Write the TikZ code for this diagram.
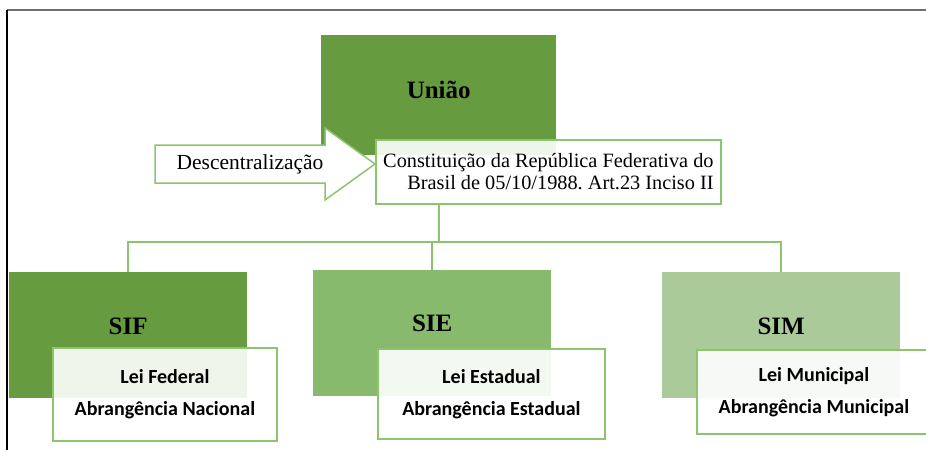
\documentclass[tikz,border=0pt]{standalone}
\usepackage{fontspec}
\setmainfont{Liberation Serif}
\newfontfamily\leifont{Carlito}
\definecolor{uniaoGreen}{RGB}{103,155,64}
\definecolor{sieGreen}{RGB}{135,186,108}
\definecolor{simGreen}{RGB}{170,203,153}
\definecolor{lineGreen}{RGB}{141,196,110}
\definecolor{frameGray}{RGB}{110,110,110}
\frenchspacing

\begin{document}
\begin{tikzpicture}[x=1pt,y=-1pt,
    bigbox/.style={anchor=north west, inner sep=0pt, draw=none},
    leibox/.style={anchor=north west, inner sep=0pt, draw=lineGreen, line width=1.8pt,
      fill=white, fill opacity=0.9, text opacity=1, align=center,
      font=\leifont\bfseries\fontsize{20}{32}\selectfont},
    title/.style={font=\bfseries\fontsize{25}{27}\selectfont},
    conn/.style={draw=lineGreen, line width=2.4pt}]

       \useasboundingbox (0,0) rectangle (926,450);
       \clip (0,0) rectangle (926,450);

       %% moldura: linha de cima e linha da esquerda
       \draw[frameGray, line width=2pt] (7,10) -- (926,10);
       \draw[black, line width=1.2pt] (7,10) -- (7,450);

       %% caixa da Uniao
       \node[bigbox, fill=uniaoGreen, minimum width=235pt, minimum height=120pt] (uniao) at (321,35) {};
       \node[title] (uniaoT) at ([yshift=-55pt]uniao.north) {União};

       %% seta de descentralizacao
       \coordinate (ArrowA) at (155,145);
       \coordinate (ArrowB) at (325,145);
       \coordinate (ArrowC) at (325,128);
       \coordinate (ArrowTip) at (375,164);
       \coordinate (ArrowD) at (325,200);
       \coordinate (ArrowE) at (325,183);
       \coordinate (ArrowF) at (155,183);
       \filldraw[draw=lineGreen, fill=white, line width=1.5pt]
       (ArrowA) -- (ArrowB) -- (ArrowC) -- (ArrowTip) -- (ArrowD) -- (ArrowE) -- (ArrowF) -- cycle;
       \node[font=\fontsize{21.5}{22}\selectfont] (descT) at (250,164) {Descentralização};

       %% constituicao
       \node[leibox, font=\fontsize{20.3}{22}\selectfont, align=right,
             minimum width=345pt, minimum height=64pt] (const) at (375,139)
             {Constituição da República Federativa do\\Brasil de 05/10/1988. Art.23 Inciso II};

       %% SIF, SIE, SIM
       \node[bigbox, fill=uniaoGreen, minimum width=238pt, minimum height=126pt] (sif) at (9,272) {};
       \node[bigbox, fill=sieGreen, minimum width=238pt, minimum height=126pt] (sie) at (313,270) {};
       \node[bigbox, fill=simGreen, minimum width=238pt, minimum height=126pt] (sim) at (662,272) {};
       \node[title] (sifT) at ([yshift=-54pt]sif.north) {SIF};
       \node[title] (sieT) at ([yshift=-53pt]sie.north) {SIE};
       \node[title] (simT) at ([yshift=-54pt]sim.north) {SIM};

       \node[leibox, minimum width=224pt, minimum height=93pt] (leiF) at (52,347)
             {Lei Federal\\Abrangência Nacional};
       \node[leibox, minimum width=227pt, minimum height=90pt] (leiE) at (377,348)
             {Lei Estadual\\Abrangência Estadual};
       \node[leibox, minimum width=234pt, minimum height=84pt] (leiM) at (696,349)
             {Lei Municipal\\Abrangência Municipal};

       %% ligacoes
       \draw[conn] (uniao.south |- const.south) -- ++(0,37) coordinate (fork);
       \draw[conn] (sif.north) |- (fork) -| (sim.north);
       \draw[conn] (sie.north) -- (sie.north |- fork);
    \end{tikzpicture}
\end{document}
